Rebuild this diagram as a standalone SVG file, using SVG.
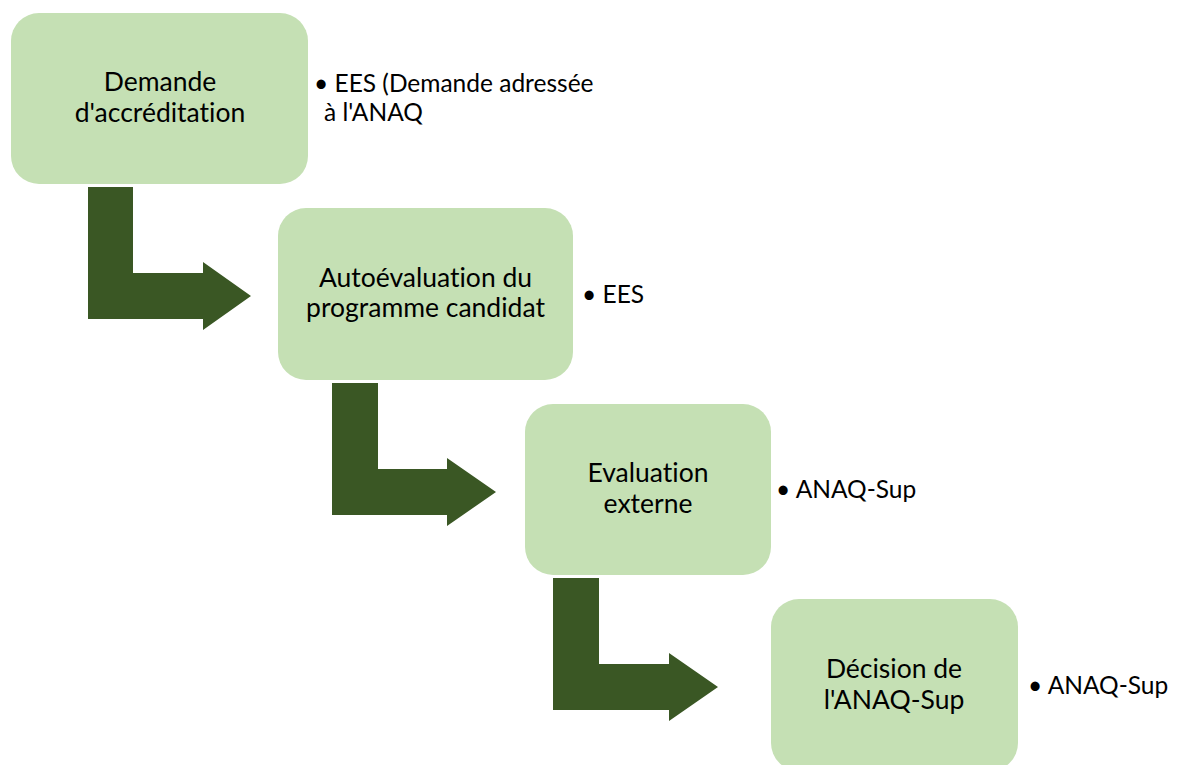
<svg xmlns="http://www.w3.org/2000/svg" width="1178" height="765" viewBox="0 0 1178 765">
<style>
.box{fill:#C5E0B4}
.arr{fill:#3A5724}
.t{font-family:Lato,"Open Sans","Liberation Sans",sans-serif;font-size:24.5px;fill:#000;font-variant-ligatures:none}
.c{text-anchor:middle;font-size:26.5px}
</style>
<rect width="1178" height="765" fill="#fff"/>
<g id="connectors">
<path class="arr" d="M88,187 H133 V273 H203 V262 L251,296 L203,330 V319 H88 Z"/>
<path class="arr" d="M332,383 H378 V469 H447 V458 L496,492 L447,526 V515 H332 Z"/>
<path class="arr" d="M553,578 H599 V664 H669 V653 L718,687 L669,721 V710 H553 Z"/>
</g>
<g id="node1">
<rect class="box" x="11" y="13" width="297" height="171" rx="28"/>
<text class="t c" x="160" y="91">Demande</text>
<text class="t c" x="160" y="122">d'accréditation</text>
</g>
<g id="label1">
<text class="t" x="314" y="92">• EES (Demande adressée</text>
<text class="t" x="324" y="121">à l'ANAQ</text>
</g>
<g id="node2">
<rect class="box" x="278" y="208" width="295" height="172" rx="28"/>
<text class="t c" x="425.5" y="287">Autoévaluation du</text>
<text class="t c" x="425.5" y="317">programme candidat</text>
</g>
<g id="label2">
<text class="t" x="582" y="303">• EES</text>
</g>
<g id="node3">
<rect class="box" x="525" y="404" width="246" height="171" rx="28"/>
<text class="t c" x="648" y="482">Evaluation</text>
<text class="t c" x="648" y="513">externe</text>
</g>
<g id="label3">
<text class="t" x="776" y="498">• ANAQ-Sup</text>
</g>
<g id="node4">
<rect class="box" x="771" y="599" width="247" height="172" rx="28"/>
<text class="t c" x="894" y="678">Décision de</text>
<text class="t c" x="894" y="709">l'ANAQ-Sup</text>
</g>
<g id="label4">
<text class="t" x="1028" y="694">• ANAQ-Sup</text>
</g>
</svg>
